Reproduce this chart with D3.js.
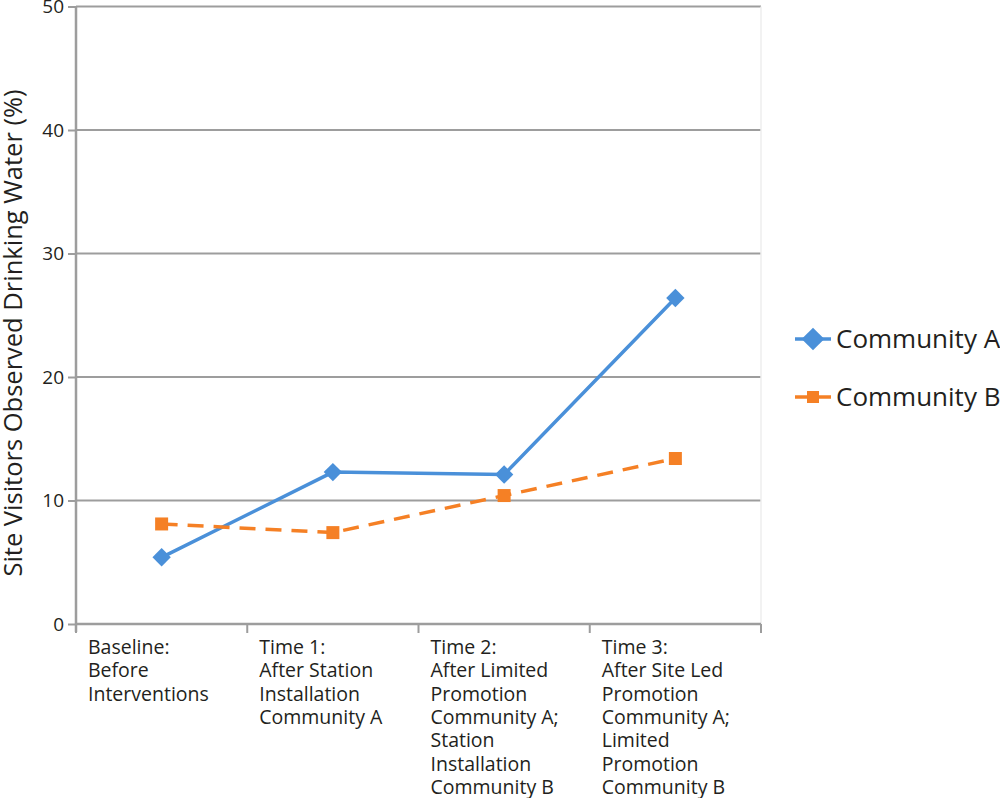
<!DOCTYPE html>
<meta charset="utf-8">
<html>
<head>
<script src="https://d3js.org/d3.v7.min.js"></script>
<style>
  body { margin: 0; background: #fff; }
  text { font-family: "Open Sans", "Noto Sans", sans-serif; fill: #231f20; }
</style>
</head>
<body>
<svg width="1000" height="798"></svg>
<script>
// data
var categories = ["Baseline", "Time 1", "Time 2", "Time 3"];
var categoryLabels = [
  ["Baseline:", "Before", "Interventions"],
  ["Time 1:", "After Station", "Installation", "Community A"],
  ["Time 2:", "After Limited", "Promotion", "Community A;", "Station", "Installation", "Community B"],
  ["Time 3:", "After Site Led", "Promotion", "Community A;", "Limited", "Promotion", "Community B"]
];
var communityA = [5.4, 12.3, 12.1, 26.4];
var communityB = [8.1, 7.4, 10.4, 13.4];
var yTicks = [0, 10, 20, 30, 40, 50];

var series = [
  {name: "Community A", values: communityA, color: "#4a90d9", dash: null, diamond: true},
  {name: "Community B", values: communityB, color: "#f58025", dash: "16,10", diamond: false}
];

var svg = d3.select("svg");
var margin = {left: 76, right: 239, top: 6.5, bottom: 174};
var width = 1000 - margin.left - margin.right,
    height = 798 - margin.top - margin.bottom;

var g = svg.append("g").attr("transform", "translate(" + margin.left + "," + margin.top + ")");

var x = d3.scaleBand().domain(categories).range([0, width]);
var y = d3.scaleLinear().domain([0, 50]).range([height, 0]);

// gridlines
g.selectAll(".grid").data(yTicks.slice(1)).enter().append("line")
  .attr("x1", 0).attr("x2", width)
  .attr("y1", function(d) { return y(d); }).attr("y2", function(d) { return y(d); })
  .attr("stroke", "#9d9d9d").attr("stroke-width", 2);

// faint right border
g.append("line").attr("x1", width).attr("x2", width).attr("y1", y(50)).attr("y2", height)
  .attr("stroke", "#eeeeee").attr("stroke-width", 1.5);

// y axis
var yAxis = g.append("g").call(d3.axisLeft(y).tickValues(yTicks).tickSize(8).tickPadding(4));
yAxis.select(".domain").attr("stroke", "#9d9d9d").attr("stroke-width", 2.5)
  .attr("d", "M0," + (height + 8) + "V" + y(50));
yAxis.selectAll(".tick line").attr("stroke", "#9d9d9d").attr("stroke-width", 2);
yAxis.selectAll(".tick text").style("font-size", "19px").attr("fill", "#231f20")
  .style("font-family", '"Open Sans", sans-serif');

// x axis
g.append("line").attr("x1", 0).attr("x2", width).attr("y1", height).attr("y2", height)
  .attr("stroke", "#9d9d9d").attr("stroke-width", 2.5);
var xt = [0, 1, 2, 3, 4].map(function(i) { return i * x.bandwidth(); });
g.selectAll(".xtick").data(xt).enter().append("line")
  .attr("x1", function(d) { return d; }).attr("x2", function(d) { return d; })
  .attr("y1", height).attr("y2", height + 9)
  .attr("stroke", "#9d9d9d").attr("stroke-width", 2);

categoryLabels.forEach(function(lines, i) {
  var t = g.append("text")
    .attr("x", x(categories[i]) + 12)
    .attr("y", height + 30)
    .style("font-size", "19.5px");
  lines.forEach(function(l, j) {
    t.append("tspan").attr("x", x(categories[i]) + 12).attr("dy", j == 0 ? 0 : 23.3).text(l);
  });
});

// y label
svg.append("text")
  .attr("transform", "translate(22,333) rotate(-90)")
  .attr("text-anchor", "middle")
  .style("font-size", "25.5px")
  .text("Site Visitors Observed Drinking Water (%)");

// lines
var line = d3.line()
  .x(function(d, i) { return x(categories[i]) + x.bandwidth() / 2; })
  .y(function(d) { return y(d); });

function marker(sel, s, big) {
  var side = s.diamond ? (big ? 16 : 13) : (big ? 12 : 13);
  sel.append("rect")
    .attr("x", -side / 2).attr("y", -side / 2)
    .attr("width", side).attr("height", side)
    .attr("transform", s.diamond ? "rotate(45)" : null)
    .attr("fill", s.color);
}

series.forEach(function(s) {
  g.append("path").datum(s.values)
    .attr("fill", "none")
    .attr("stroke", s.color)
    .attr("stroke-width", 3.5)
    .attr("stroke-dasharray", s.dash)
    .attr("d", line);
  g.selectAll(null).data(s.values).enter().append("g")
    .attr("transform", function(d, i) {
      return "translate(" + (x(categories[i]) + x.bandwidth() / 2) + "," + y(d) + ")";
    })
    .each(function() { marker(d3.select(this), s, false); });
});

// legend
var legend = svg.append("g").attr("transform", "translate(795,339)");
series.forEach(function(s, i) {
  var lg = legend.append("g").attr("transform", "translate(0," + (i * 58) + ")");
  lg.append("line").attr("x1", 0).attr("x2", 36).attr("stroke", s.color).attr("stroke-width", 3.5);
  marker(lg.append("g").attr("transform", "translate(18,0)"), s, true);
  lg.append("text").attr("x", 41).attr("y", 9).style("font-size", "26px").text(s.name);
});
</script>
</body>
</html>
